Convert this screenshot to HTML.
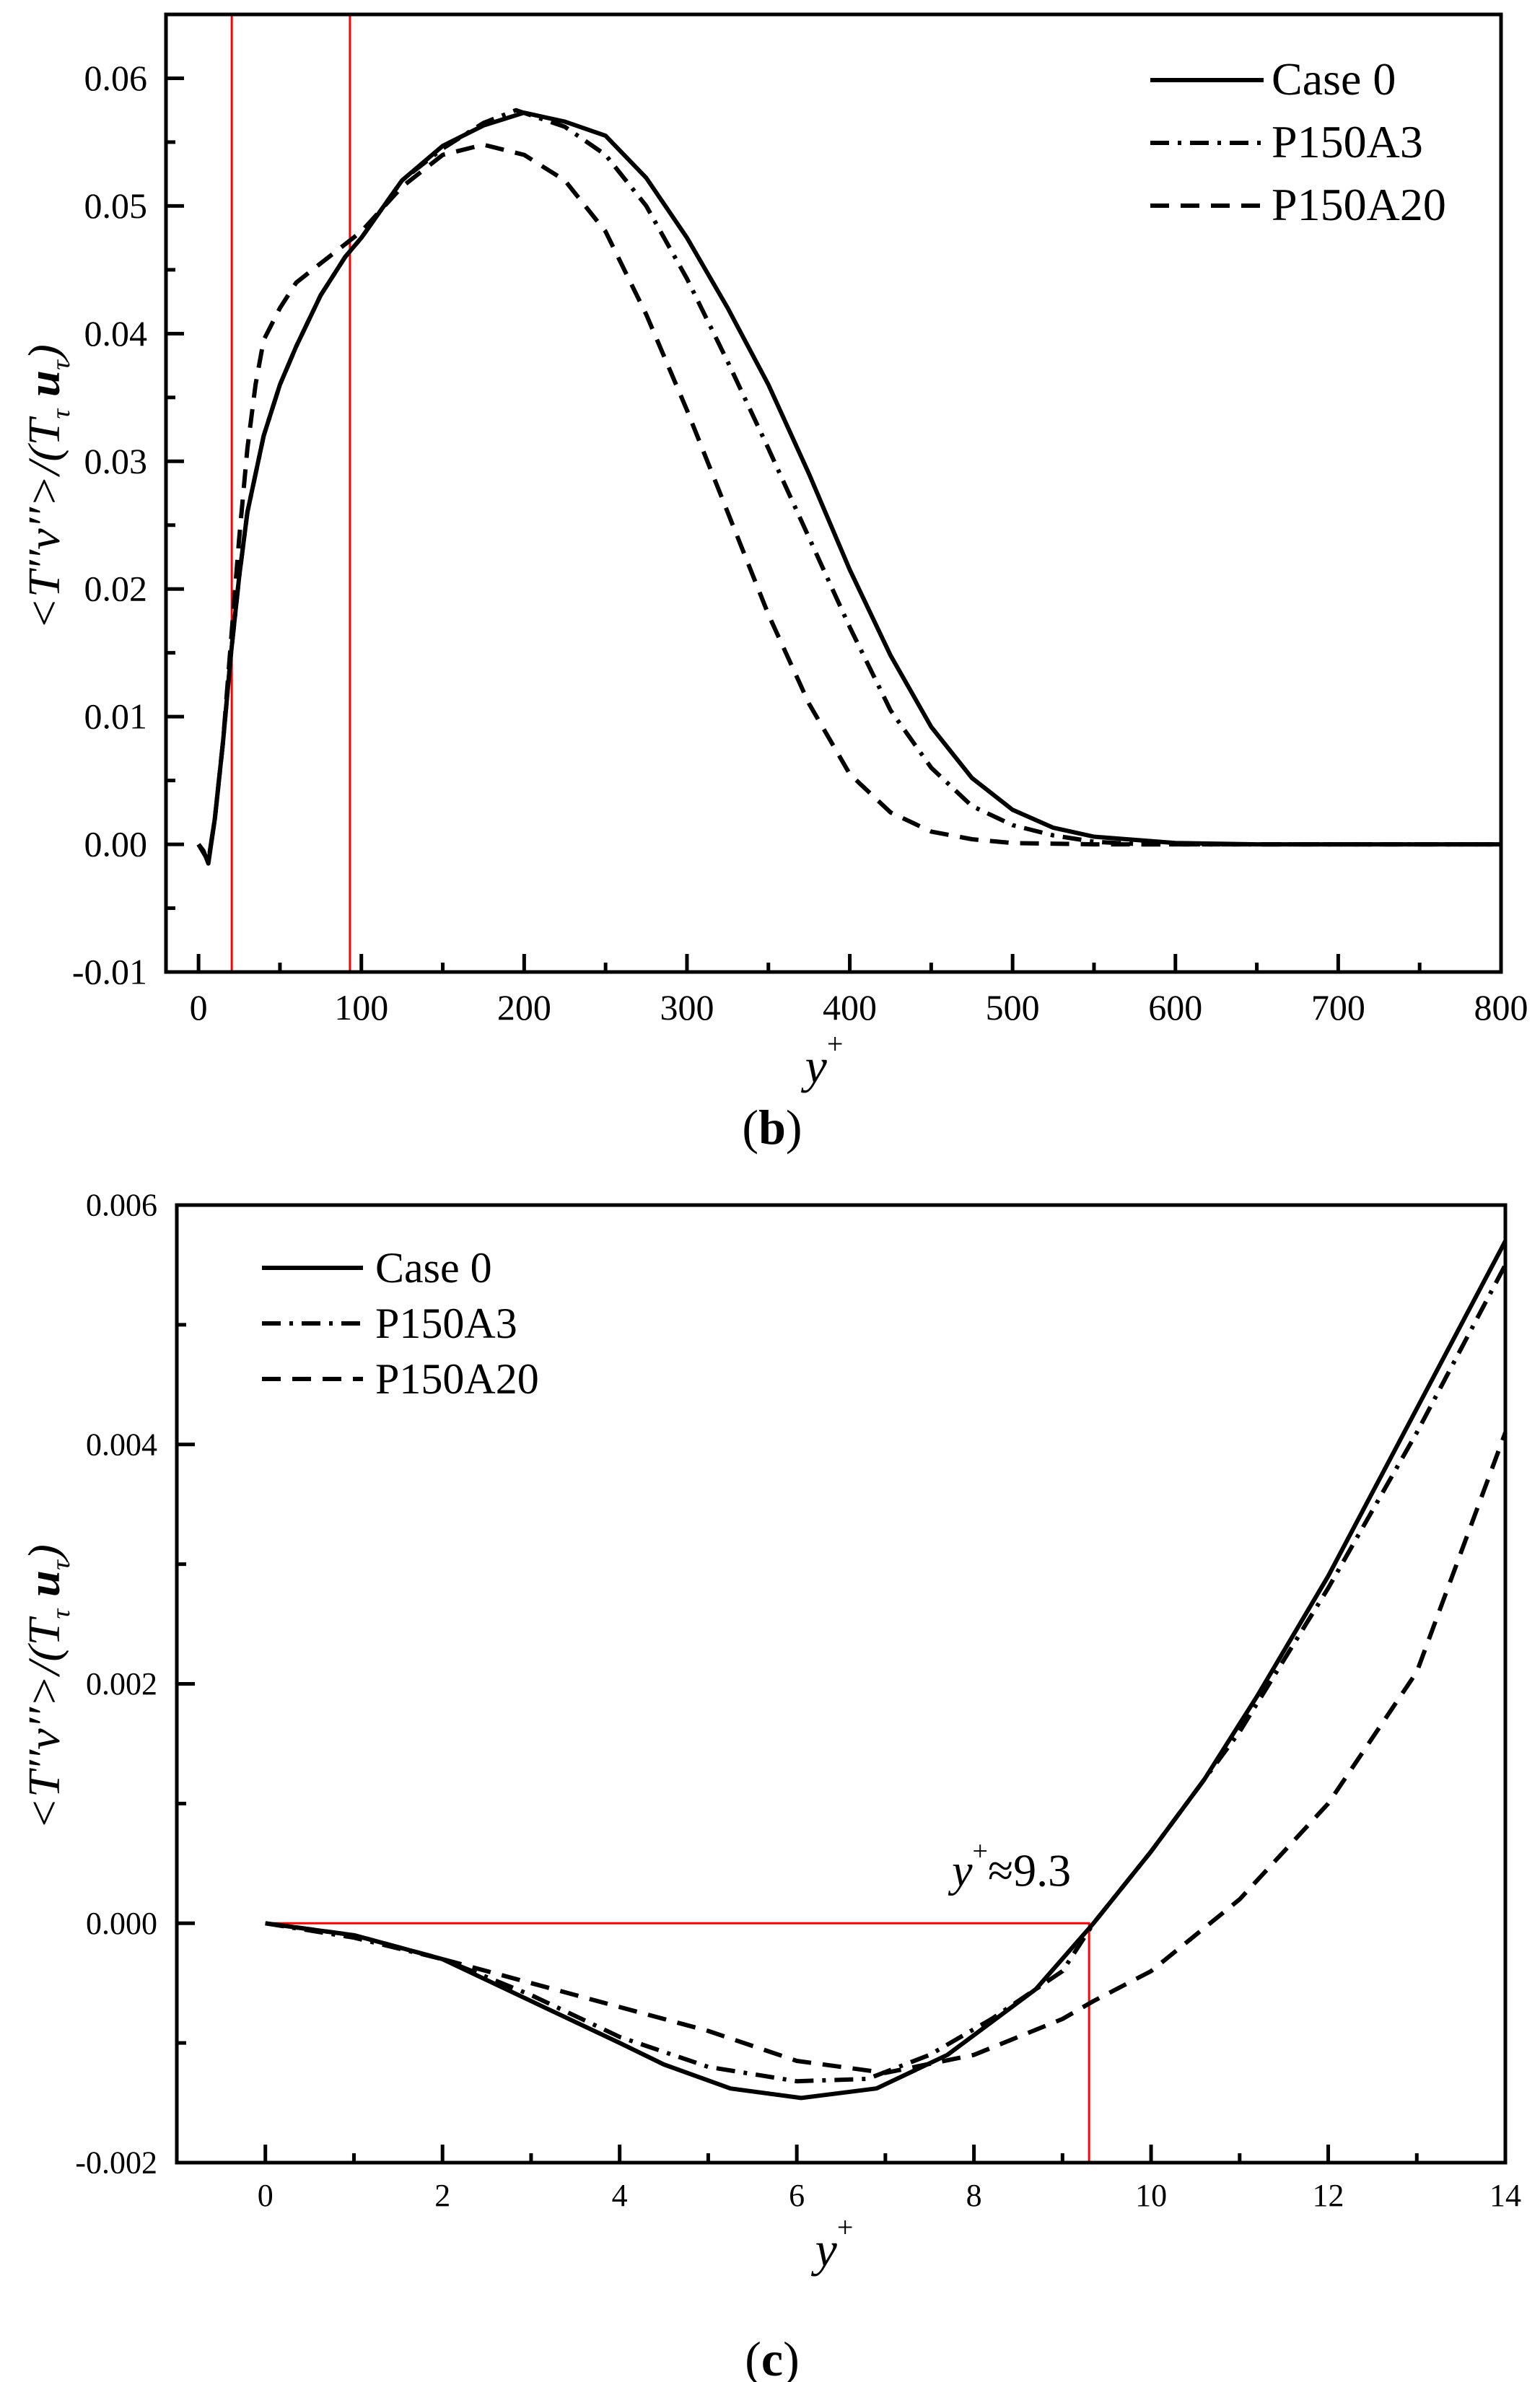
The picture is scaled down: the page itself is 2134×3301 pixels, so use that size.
<!DOCTYPE html>
<html><head><meta charset="utf-8"><style>
html,body{margin:0;padding:0;background:#fff;}
svg{display:block;}
text{font-family:"Liberation Serif",serif;fill:#000;}
</style></head><body>
<svg id="svg" width="2134" height="3301" viewBox="0 0 2134 3301" xmlns="http://www.w3.org/2000/svg">
<g id="gb"></g>
<g id="gc"></g>
</svg>
<script>
// ---- Chart (b) data ----
const bCaseX = [0,3,6,10,15,20,25,30,40,50,60,75,90,100,125,150,175,200,225,250,275,300,325,350,375,400,425,450,475,500,525,550,600,650,800];
const bCaseY = [0,-0.0005,-0.0015,0.002,0.008,0.015,0.021,0.026,0.032,0.036,0.039,0.043,0.046,0.0475,0.052,0.0547,0.0563,0.0573,0.0566,0.0555,0.0522,0.0475,0.042,0.036,0.029,0.0215,0.0148,0.0092,0.0052,0.0027,0.0013,0.0006,0.0001,0,0];
const bA3X = [0,6,10,15,20,25,30,40,50,60,75,90,100,125,150,175,195,225,250,275,300,325,350,375,400,425,450,475,500,525,550,580,800];
const bA3Y = [0,-0.0013,0.002,0.008,0.015,0.021,0.026,0.032,0.036,0.039,0.043,0.046,0.0475,0.052,0.0545,0.0565,0.0575,0.0562,0.054,0.05,0.0443,0.0378,0.031,0.024,0.017,0.0105,0.006,0.003,0.0015,0.0007,0.0002,0,0];
const bA20X = [0,6,10,15,20,25,30,35,40,50,60,75,90,100,125,150,175,200,225,250,275,300,325,350,375,400,425,450,475,500,550,800];
const bA20Y = [0,-0.0013,0.002,0.008,0.016,0.024,0.031,0.036,0.0395,0.042,0.044,0.0455,0.047,0.048,0.0515,0.054,0.0548,0.054,0.052,0.048,0.0415,0.034,0.026,0.018,0.011,0.0055,0.0025,0.001,0.0004,0.0001,0,0];
const bXTicks = [0,100,200,300,400,500,600,700,800];
const bYTicks = [-0.01,0,0.01,0.02,0.03,0.04,0.05,0.06];
const bYLabels = ["-0.01","0.00","0.01","0.02","0.03","0.04","0.05","0.06"];
const bRefLines = [20.4,93];
// ---- Chart (c) data ----
const cCaseX = [0,1,2,3,4,4.5,5.25,6.05,6.9,7.7,8.7,9.35,10,10.6,11.2,12,13,14];
const cCaseY = [0,-0.0001,-0.0003,-0.00065,-0.001,-0.00118,-0.00138,-0.00146,-0.00138,-0.0011,-0.00055,0,0.0006,0.0012,0.0019,0.0029,0.0043,0.0057];
const cA3X = [0,1,2,3,4,5,6,6.8,7.5,8.2,9,9.35,10,11,12,13,14];
const cA3Y = [0,-0.00012,-0.0003,-0.0006,-0.00095,-0.0012,-0.00132,-0.0013,-0.0011,-0.0008,-0.0004,0,0.0006,0.0016,0.0028,0.0041,0.0055];
const cA20X = [0,1,2,3,4,5,6,7,8,9,9.35,10,11,12,13,14];
const cA20Y = [0,-0.0001,-0.0003,-0.0005,-0.0007,-0.0009,-0.00115,-0.00125,-0.0011,-0.0008,-0.00065,-0.0004,0.0002,0.001,0.0021,0.0041];
const cXTicks = [0,2,4,6,8,10,12,14];
const cYTicks = [-0.002,0,0.002,0.004,0.006];
const cYLabels = ["-0.002","0.000","0.002","0.004","0.006"];
const cCross = 9.3;

const NS="http://www.w3.org/2000/svg";
function mk(parent,tag,attrs,txt){const e=document.createElementNS(NS,tag);for(const k in attrs)e.setAttribute(k,attrs[k]);if(txt!==undefined)e.textContent=txt;parent.appendChild(e);return e;}
const DASH={solid:"",dashdot:"26 12 5 12",dashed:"26 16"};

function drawChart(g,cfg){
  const sx=v=>cfg.L+(v-cfg.xmin)/(cfg.xmax-cfg.xmin)*(cfg.R-cfg.L);
  const sy=v=>cfg.B-(v-cfg.ymin)/(cfg.ymax-cfg.ymin)*(cfg.B-cfg.T);
  cfg.ref(g,sx,sy);
  cfg.series.forEach(s=>{
    const d=s.x.map((x,i)=>(i?"L":"M")+sx(x).toFixed(1)+" "+sy(s.y[i]).toFixed(1)).join(" ");
    const p=mk(g,"path",{d:d,fill:"none",stroke:"#000","stroke-width":6,"stroke-dasharray":DASH[s.style],"stroke-linejoin":"round"});
    
    
  });
  const f=mk(g,"rect",{x:cfg.L,y:cfg.T,width:cfg.R-cfg.L,height:cfg.B-cfg.T,fill:"none",stroke:"#000","stroke-width":5});
  
  
  const xstep=cfg.xTicks[1]-cfg.xTicks[0];
  cfg.xTicks.forEach((t,i)=>{
    mk(g,"line",{x1:sx(t),x2:sx(t),y1:cfg.B,y2:cfg.B-25,stroke:"#000","stroke-width":5});
    if(i<cfg.xTicks.length-1)mk(g,"line",{x1:sx(t+xstep/2),x2:sx(t+xstep/2),y1:cfg.B,y2:cfg.B-13,stroke:"#000","stroke-width":5});
    const lb=mk(g,"text",{x:sx(t),y:cfg.xLabY,"font-size":cfg.fs,"text-anchor":"middle"},String(t));
    
    
  });
  const ystep=cfg.yTicks[1]-cfg.yTicks[0];
  cfg.yTicks.forEach((t,i)=>{
    mk(g,"line",{x1:cfg.L,x2:cfg.L+25,y1:sy(t),y2:sy(t),stroke:"#000","stroke-width":5});
    if(t+ystep/2<cfg.ymax)mk(g,"line",{x1:cfg.L,x2:cfg.L+13,y1:sy(t+ystep/2),y2:sy(t+ystep/2),stroke:"#000","stroke-width":5});
    const lb=mk(g,"text",{x:cfg.yLabX,y:sy(t)+cfg.fs*0.33,"font-size":cfg.fs,"text-anchor":"end"},cfg.yLabels[i]);
    
    
  });
  cfg.series.forEach((s,i)=>{
    const y=cfg.leg.y+i*cfg.leg.dy;
    const ln=mk(g,"line",{x1:cfg.leg.x1,x2:cfg.leg.x2,y1:y,y2:y,stroke:"#000","stroke-width":6,"stroke-dasharray":DASH[s.style]});
    
    
    const tx=mk(g,"text",{x:cfg.leg.tx,y:y+20,"font-size":cfg.leg.fs},s.label);
    
    
  });
  const yt=mk(g,"text",{transform:`translate(${cfg.ytX},${cfg.ytY}) rotate(-90)`,"font-size":62,"text-anchor":"middle","font-style":"italic",textLength:396,lengthAdjust:"spacingAndGlyphs"});
  
  
  yt.innerHTML='&lt;T′′v′′&gt;/(T<tspan font-size="36" dy="14">τ</tspan><tspan dy="-14" font-weight="bold"> u</tspan><tspan font-size="36" dy="14">τ</tspan><tspan dy="-14">)</tspan>';
  const xt=mk(g,"text",{x:cfg.xtX,y:cfg.xtY,"font-size":68,"font-style":"italic","text-anchor":"middle"});
  
  
  xt.innerHTML='y<tspan font-size="40" font-style="normal" dy="-40">+</tspan>';
  const cap=mk(g,"text",{x:cfg.capX,y:cfg.capY,"font-size":68,"text-anchor":"middle"});
  
  
  cap.innerHTML='(<tspan font-weight="bold">'+cfg.cap+'</tspan>)';
}

drawChart(document.getElementById("gb"),{
  L:230,R:2080,T:20,B:1347,xmin:-20,xmax:800,ymin:-0.01,ymax:0.065,fs:50,
  xTicks:bXTicks,yTicks:bYTicks,yLabels:bYLabels,xLabY:1413,yLabX:204,
  series:[{x:bCaseX,y:bCaseY,style:"solid",label:"Case 0",name:"series-case0"},
          {x:bA3X,y:bA3Y,style:"dashdot",label:"P150A3",name:"series-p150a3"},
          {x:bA20X,y:bA20Y,style:"dashed",label:"P150A20",name:"series-p150a20"}],
  leg:{x1:1594,x2:1751,tx:1762,y:111,dy:87,fs:64},
  ytX:82,ytY:675,xtX:1142,xtY:1500,capX:1070,capY:1585,cap:"b",
  ref:(g,sx,sy)=>{bRefLines.forEach(v=>{const l=mk(g,"line",{x1:sx(v),x2:sx(v),y1:20,y2:1347,stroke:"#f00","stroke-width":3});
    
    });}
});
drawChart(document.getElementById("gc"),{
  L:245,R:2086,T:1670,B:2997,xmin:-1,xmax:14,ymin:-0.002,ymax:0.006,fs:44,
  xTicks:cXTicks,yTicks:cYTicks,yLabels:cYLabels,xLabY:3057,yLabX:218,
  series:[{x:cCaseX,y:cCaseY,style:"solid",label:"Case 0",name:"series-case0"},
          {x:cA3X,y:cA3Y,style:"dashdot",label:"P150A3",name:"series-p150a3"},
          {x:cA20X,y:cA20Y,style:"dashed",label:"P150A20",name:"series-p150a20"}],
  leg:{x1:363,x2:503,tx:520,y:1757,dy:77,fs:60},
  ytX:82,ytY:2338,xtX:1156,xtY:3140,capX:1070,capY:3292,cap:"c",
  ref:(g,sx,sy)=>{
    const h=mk(g,"polyline",{points:`${sx(0)},${sy(0)} ${sx(cCross)},${sy(0)} ${sx(cCross)},2997`,fill:"none",stroke:"#f00","stroke-width":3});
    
    
    const a=mk(g,"text",{x:sx(cCross)-190,y:sy(0)-52,"font-size":64});
    
    
    a.innerHTML='<tspan font-style="italic">y</tspan><tspan font-size="38" dy="-36">+</tspan><tspan dy="36">≈'+cCross+'</tspan>';
  }
});
</script>
</body></html>
